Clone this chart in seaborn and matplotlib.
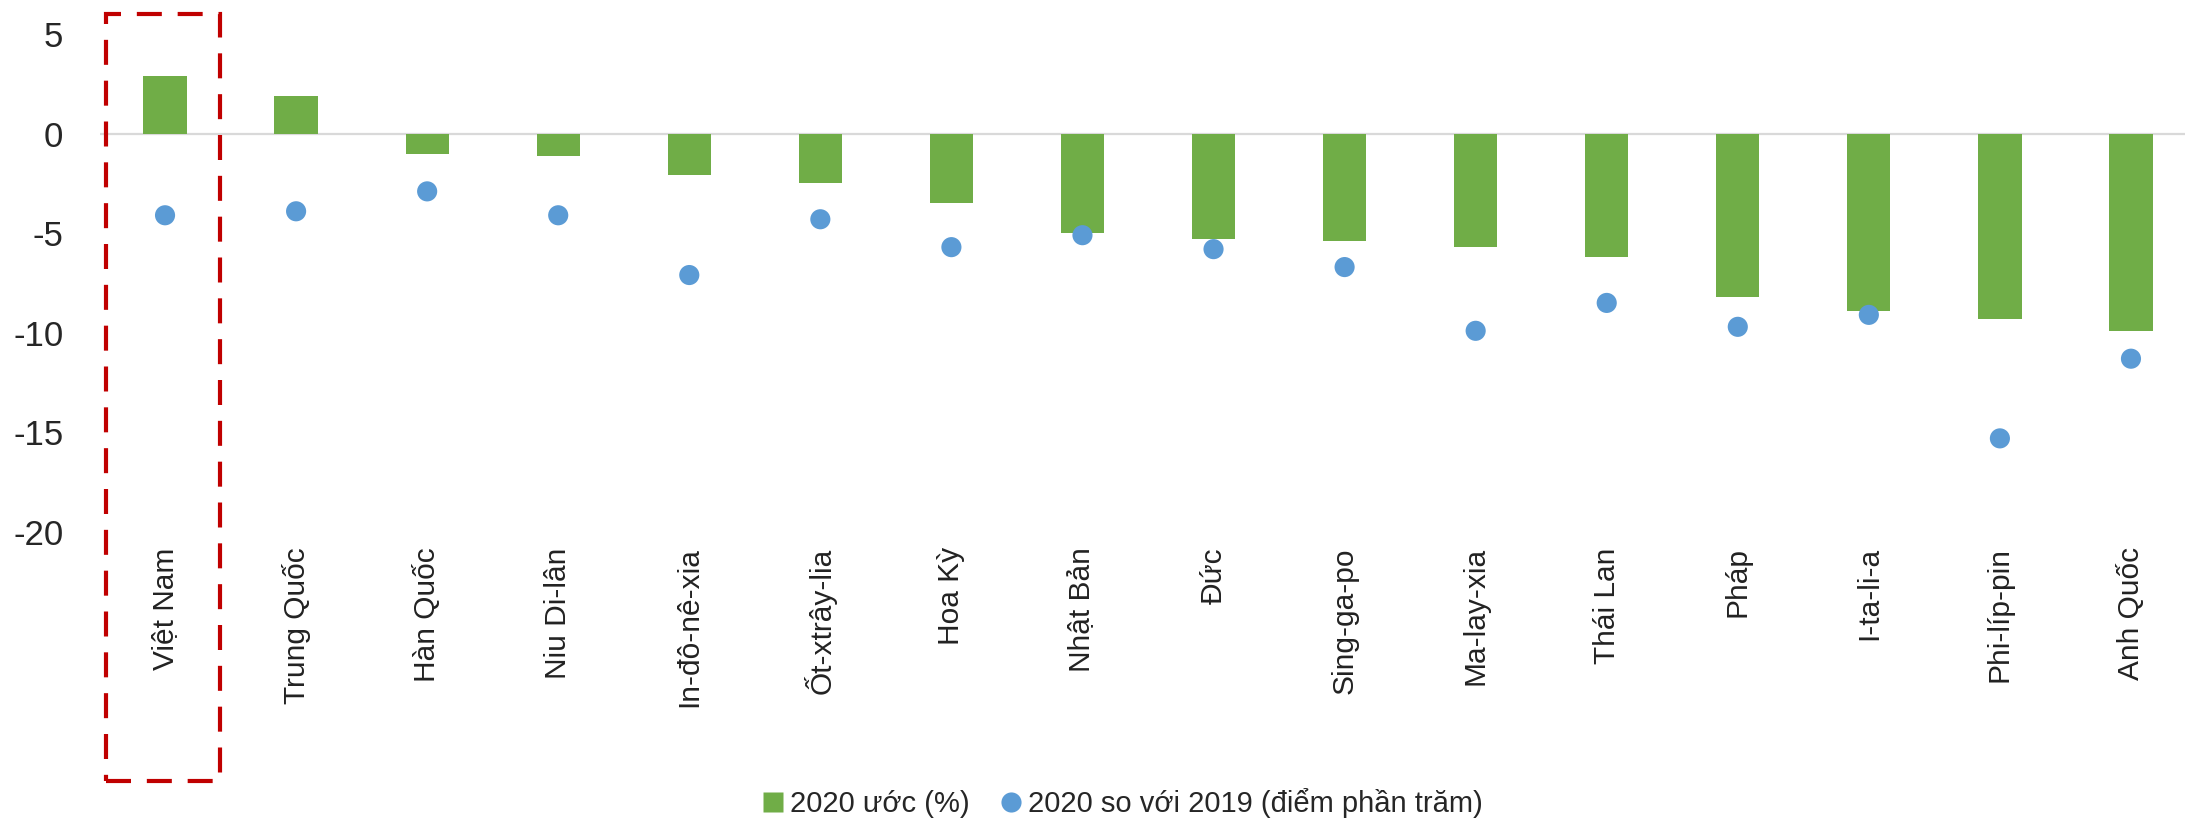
import matplotlib
matplotlib.use("Agg")
import matplotlib.pyplot as plt
import matplotlib.transforms as mtransforms
from matplotlib.patches import Rectangle
from matplotlib.lines import Line2D
from matplotlib import font_manager
import seaborn as sns
import numpy as np
import pandas as pd

# --- data ---
countries = ["Việt Nam", "Trung Quốc", "Hàn Quốc", "Niu Di-lân", "In-đô-nê-xia",
             "Ốt-xtrây-lia", "Hoa Kỳ", "Nhật Bản", "Đức", "Sing-ga-po",
             "Ma-lay-xia", "Thái Lan", "Pháp", "I-ta-li-a", "Phi-líp-pin", "Anh Quốc"]
growth_2020 = [2.9, 1.9, -1.0, -1.1, -2.1, -2.5, -3.5, -5.0, -5.3, -5.4,
               -5.7, -6.2, -8.2, -8.9, -9.3, -9.9]
change_vs_2019 = [-4.1, -3.9, -2.9, -4.1, -7.1, -4.3, -5.7, -5.1, -5.8, -6.7,
                  -9.9, -8.5, -9.7, -9.1, -15.3, -11.3]
y_ticks = [5, 0, -5, -10, -15, -20]
label_bar = "2020 ước (%)"
label_dot = "2020 so với 2019 (điểm phần trăm)"

GREEN = "#70AD47"
BLUE = "#5B9BD5"
RED = "#C00000"

sns.set_theme(style="white")
names = {f.name for f in font_manager.fontManager.ttflist}
narrow = "Liberation Sans Narrow" if "Liberation Sans Narrow" in names else "Liberation Sans"
plt.rcParams['font.family'] = ["Liberation Sans", "DejaVu Sans"]

df = pd.DataFrame({"country": countries, "growth": growth_2020, "change": change_vs_2019})

W, H = 2185, 818
fig = plt.figure(figsize=(W / 100, H / 100), dpi=100)
ax = fig.add_axes([99.5 / W, 1 - 532 / H, 2097 / W, 498 / H])

sns.barplot(data=df, x="country", y="growth", color=GREEN, saturation=1,
            width=0.33, ax=ax, linewidth=0)
sns.scatterplot(x=np.arange(len(df)), y=df["change"], color=BLUE, s=210,
                edgecolor="none", ax=ax, zorder=3)

ax.axhline(0, color="#D9D9D9", lw=1.6, zorder=0)
ax.set_xlim(-0.5, len(df) - 0.5)
ax.set_ylim(-20, 5)
ax.set_yticks(y_ticks)
ax.set_yticklabels([str(t) for t in y_ticks], family=[narrow, "DejaVu Sans"], fontsize=25)
ax.set_xticks(np.arange(len(df)))
ax.set_xticklabels(countries, rotation=90, fontsize=21.5, color="#222222")
ax.tick_params(axis="y", length=0, pad=26)
ax.tick_params(axis="x", length=0, pad=11)
ax.set_xlabel(""); ax.set_ylabel("")
for s in ax.spines.values():
    s.set_visible(False)
ax.grid(False)

# red dashed highlight around Viet Nam
trans = mtransforms.blended_transform_factory(ax.transData, ax.transAxes)
ax.add_patch(Rectangle((-0.45, -0.5), 0.87, 1.54, transform=trans, fill=False,
                       edgecolor=RED, lw=3, linestyle=(0, (6, 3.8)), clip_on=False))

handles = [Line2D([], [], marker="s", linestyle="none", markersize=14.5,
                  markerfacecolor=GREEN, markeredgecolor="none"),
           Line2D([], [], marker="o", linestyle="none", markersize=14.5,
                  markerfacecolor=BLUE, markeredgecolor="none")]
fig.legend(handles, [label_bar, label_dot], loc="center", ncol=2,
           bbox_to_anchor=(1122 / W, 1 - 803 / H), frameon=False,
           prop={"family": [narrow, "DejaVu Sans"], "size": 21},
           handlelength=0.8, handletextpad=0.2, columnspacing=1.0)

fig.savefig("out.png", dpi=100)
